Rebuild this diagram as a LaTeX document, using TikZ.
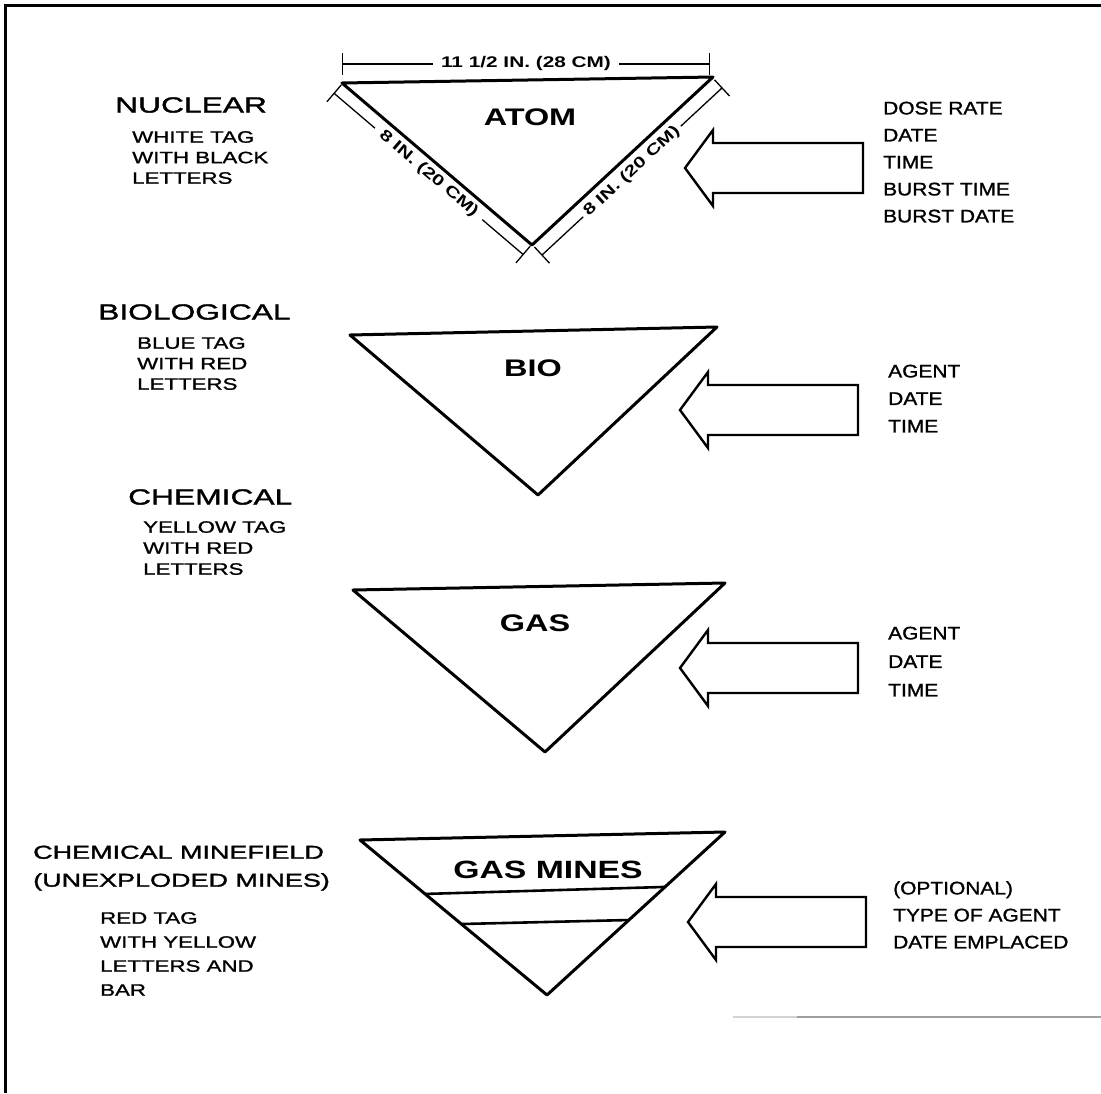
\documentclass[tikz,border=0pt]{standalone}
\usepackage{fontspec}
\setmainfont{Liberation Sans}
\newfontfamily\headfont[FakeStretch=1.45,FakeBold=1.6]{Liberation Sans}
\newfontfamily\subfont[FakeStretch=1.35,FakeBold=1.3]{Liberation Sans}
\newfontfamily\listfont[FakeStretch=1.15,FakeBold=1.3]{Liberation Sans}
\newfontfamily\tagfont[FakeStretch=1.35]{Liberation Sans}
\usetikzlibrary{calc,arrows.meta}

\begin{document}
\begin{tikzpicture}[x=1pt,y=-1pt,
  edge/.style={line width=3pt, line join=round},
  bar/.style={line width=2.6pt},
  frame/.style={line width=3pt},
  dimline/.style={line width=1.3pt, {Bar[width=22pt,line width=1.3pt]}-{Bar[width=22pt,line width=1.3pt]}},
  dimtext/.style={fill=white, inner xsep=8pt, inner ysep=1pt, sloped,
    font=\tagfont\bfseries\fontsize{15.4}{18}\selectfont},
  heading/.style={anchor=west, inner sep=0pt, font=\headfont\fontsize{21.9}{28}\selectfont},
  subtext/.style={anchor=north west, inner sep=0pt, align=left,
    font=\subfont\fontsize{16.5}{20.5}\selectfont},
  listtext/.style={anchor=north west, inner sep=0pt, align=left,
    font=\listfont\fontsize{18.2}{27}\selectfont},
  taglabel/.style={inner sep=0pt, font=\tagfont\bfseries\fontsize{24}{28}\selectfont},
  infoarrow/.pic={
    \draw[line width=2.4pt, line join=miter]
      (0,0) -- (28,-38) -- (28,-25) -- (178,-25) -- (178,25) -- (28,25) -- (28,38) -- cycle;
  },
]
\useasboundingbox (0,0) rectangle (1101,1093);

% page frame: top and left rules
\draw[frame] (4,5) -- (1101,5);
\draw[frame] (5,4) -- (5,1093);

% ---------- NUCLEAR ----------
\coordinate (t1l) at (342,83);
\coordinate (t1r) at (713,77);
\coordinate (t1b) at (532,245);
\draw[edge] (t1l) -- (t1r) -- (t1b) -- cycle;
\node[taglabel] (atom) at (530,117) {ATOM};

% dimensions of the tag
\coordinate (dtl) at (342,64);
\coordinate (dtr) at (710,64);
\draw[dimline] (dtl) -- node[dimtext] (dimtop) {11 1/2 IN. (28 CM)} (dtr);
\coordinate (dll) at (333.6,92.9);
\coordinate (dlb) at (523.6,254.9);
\draw[dimline] (dll) -- node[dimtext] (dimleft) {8 IN. (20 CM)} (dlb);
\coordinate (drb) at (541.5,255.5);
\coordinate (drr) at (722.5,87.5);
\draw[dimline] (drb) -- node[dimtext, inner xsep=4pt] (dimright) {8 IN. (20 CM)} (drr);

\node[heading] (nuc) at (115,105) {NUCLEAR};
\node[subtext] (nucsub) at (132,131) {WHITE TAG\\WITH BLACK\\LETTERS};
\pic (arr1) at (685,168) {infoarrow};
\node[listtext] (nuclist) at (883,101.5) {DOSE RATE\\DATE\\TIME\\BURST TIME\\BURST DATE};

% ---------- BIOLOGICAL ----------
\coordinate (t2l) at (350,335);
\coordinate (t2r) at (717,327);
\coordinate (t2b) at (538,495);
\draw[edge] (t2l) -- (t2r) -- (t2b) -- cycle;
\node[taglabel] (bio) at (533,368) {BIO};
\node[heading] (biohead) at (98,312) {BIOLOGICAL};
\node[subtext] (biosub) at (137,337) {BLUE TAG\\WITH RED\\LETTERS};
\pic (arr2) at (680,410) {infoarrow};
\node[listtext, font=\listfont\fontsize{18.2}{27.5}\selectfont] (biolist) at (888,364.5) {AGENT\\DATE\\TIME};

% ---------- CHEMICAL ----------
\coordinate (t3l) at (353,590);
\coordinate (t3r) at (725,583);
\coordinate (t3b) at (545,752);
\draw[edge] (t3l) -- (t3r) -- (t3b) -- cycle;
\node[taglabel] (gas) at (535,623) {GAS};
\node[heading] (chemhead) at (128,497) {CHEMICAL};
\node[subtext, font=\subfont\fontsize{16.5}{21}\selectfont] (chemsub) at (143,521) {YELLOW TAG\\WITH RED\\LETTERS};
\pic (arr3) at (680,668) {infoarrow};
\node[listtext, font=\listfont\fontsize{18.2}{28.5}\selectfont] (chemlist) at (888,626.5) {AGENT\\DATE\\TIME};

% ---------- CHEMICAL MINEFIELD ----------
\coordinate (t4l) at (360,840);
\coordinate (t4r) at (725,832);
\coordinate (t4b) at (547,995);
\draw[edge] (t4l) -- (t4r) -- (t4b) -- cycle;
\draw[bar] ($(t4l)!0.348!(t4b)$) -- ($(t4r)!0.337!(t4b)$);
\draw[bar] ($(t4l)!0.542!(t4b)$) -- ($(t4r)!0.54!(t4b)$);
\node[taglabel, font=\tagfont\bfseries\fontsize{25}{28}\selectfont] (gasmines) at (548,870) {GAS MINES};
\node[anchor=north west, inner sep=0pt, align=left,
      font=\headfont\fontsize{18.6}{28}\selectfont] (minehead) at (33,845.5)
      {CHEMICAL MINEFIELD\\(UNEXPLODED MINES)};
\node[subtext, font=\subfont\fontsize{16.5}{24}\selectfont] (minesub) at (100,912) {RED TAG\\WITH YELLOW\\LETTERS AND\\BAR};
\pic (arr4) at (688,922) {infoarrow};
\node[listtext, font=\listfont\fontsize{18.2}{27}\selectfont] (minelist) at (893,881) {(OPTIONAL)\\TYPE OF AGENT\\DATE EMPLACED};

% faint rule near the foot of the page
\draw[gray!35, line width=2pt] (733,1017) -- (797,1017);
\draw[gray!75, line width=2pt] (797,1017) -- (1101,1017);
\end{tikzpicture}
\end{document}
